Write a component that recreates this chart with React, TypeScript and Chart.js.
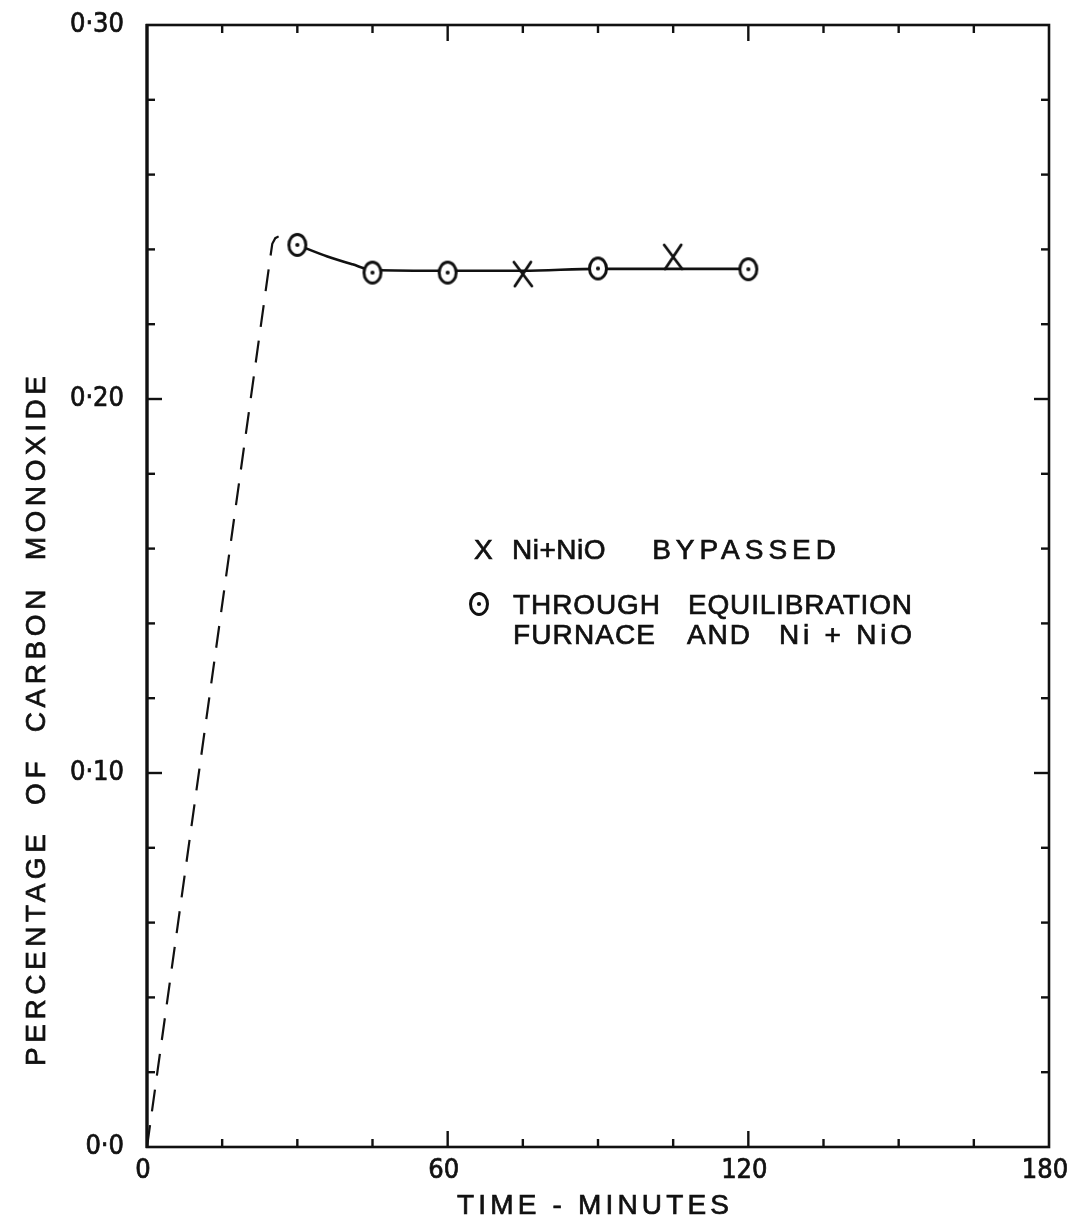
import { useEffect, useRef } from 'react';
import { Chart, registerables } from 'chart.js';

Chart.register(...registerables);

// CO readings taken with the gas routed through the equilibration furnace and Ni + NiO
const throughTimes = [30, 45, 60, 90, 120];
const throughCO = [0.2412, 0.2338, 0.2338, 0.2349, 0.2347];

// CO readings with the Ni + NiO bypassed
const bypassTimes = [75, 105];
const bypassCO = [0.2334, 0.238];

// smoothed curve through the readings
const curveTimes = [30, 36, 41, 45, 60, 75, 90, 105, 120];
const curveCO = [0.2412, 0.2381, 0.236, 0.2345, 0.2343, 0.2343, 0.2348, 0.2348, 0.2348];

// initial build-up (dashed)
const riseTimes = [0, 24.6, 25.0, 25.6, 26.3, 27.1];
const riseCO = [0, 0.2378, 0.2415, 0.2430, 0.2435, 0.2437];

const xTickValues = [0, 60, 120, 180];
const xTickLabels = ['0', '60', '120', '180'];
const yTickValues = [0, 0.1, 0.2, 0.3];
const yTickLabels = ['0·0', '0·10', '0·20', '0·30'];
const xMinorStep = 15;
const yMinorStep = 0.02;

const xAxisTitle = 'TIME - MINUTES';
const yAxisTitle = 'PERCENTAGE  OF  CARBON  MONOXIDE';

const legendBypassWords = ['Ni+NiO', 'BYPASSED'];
const legendThroughLine1 = ['THROUGH', 'EQUILIBRATION'];
const legendThroughLine2 = ['FURNACE', 'AND', 'Ni + NiO'];

const INK = '#111111';
const TICK_FONT = '"DejaVu Sans Condensed", "DejaVu Sans", sans-serif';
const TEXT_FONT = '"Liberation Sans", Arial, sans-serif';

function makeRing(): HTMLCanvasElement {
  const c = document.createElement('canvas');
  c.width = 24;
  c.height = 28;
  const g = c.getContext('2d')!;
  g.lineWidth = 3;
  g.strokeStyle = INK;
  g.fillStyle = '#ffffff';
  g.beginPath();
  g.ellipse(12, 14, 8.5, 10.5, 0, 0, Math.PI * 2);
  g.fill();
  g.stroke();
  g.fillStyle = INK;
  g.beginPath();
  g.arc(12, 14, 2.1, 0, Math.PI * 2);
  g.fill();
  return c;
}

function makeCross(): HTMLCanvasElement {
  const c = document.createElement('canvas');
  c.width = 24;
  c.height = 28;
  const g = c.getContext('2d')!;
  g.lineWidth = 2.8;
  g.strokeStyle = INK;
  g.lineCap = 'round';
  g.beginPath();
  g.moveTo(3, 2);
  g.lineTo(21, 26);
  g.moveTo(20, 2);
  g.lineTo(4, 26);
  g.stroke();
  return c;
}

const toPoints = (xs: number[], ys: number[]) => xs.map((x, i) => ({ x, y: ys[i] }));

// draws text so that its ink runs from x0 to x1 by spreading the letters
function spreadText(ctx: any, text: string, x0: number, x1: number, y: number) {
  ctx.letterSpacing = '0px';
  const w = ctx.measureText(text).width;
  const n = Array.from(text).length;
  const sp = n > 1 ? (x1 - x0 - w) / (n - 1) : 0;
  ctx.letterSpacing = `${sp}px`;
  ctx.textAlign = 'left';
  ctx.fillText(text, x0, y);
  ctx.strokeText(text, x0, y);
  ctx.letterSpacing = '0px';
}

// draws text with a fixed letter spacing, left or right anchored
function spacedText(ctx: any, text: string, x: number, y: number, sp: number, align: 'left' | 'right') {
  ctx.letterSpacing = `${sp}px`;
  const w = ctx.measureText(text).width - sp;
  const x0 = align === 'left' ? x : x - w;
  ctx.textAlign = 'left';
  ctx.fillText(text, x0, y);
  ctx.strokeText(text, x0, y);
  ctx.letterSpacing = '0px';
}

const framePlugin = {
  id: 'frameAndNotes',
  afterDraw(chart: any) {
    const { ctx, chartArea: a, scales } = chart;
    const x = scales.x;
    const y = scales.y;
    ctx.save();
    ctx.strokeStyle = INK;
    ctx.lineCap = 'butt';

    const seg = (x1: number, y1: number, x2: number, y2: number) => {
      ctx.beginPath();
      ctx.moveTo(x1, y1);
      ctx.lineTo(x2, y2);
      ctx.stroke();
    };

    // inward tick marks on all four sides
    ctx.lineWidth = 2.4;
    for (let v = xMinorStep; v < x.max - 1e-9; v += xMinorStep) {
      const px = x.getPixelForValue(v);
      const major = xTickValues.some((t) => Math.abs(t - v) < 1e-9);
      const len = major ? 16 : 8;
      seg(px, a.bottom, px, a.bottom - len);
      seg(px, a.top, px, a.top + len);
    }
    for (let v = yMinorStep; v < y.max - 1e-9; v += yMinorStep) {
      const py = y.getPixelForValue(v);
      const major = yTickValues.some((t) => Math.abs(t - v) < 1e-9);
      const len = major ? 15 : 8;
      seg(a.left, py, a.left + len, py);
      seg(a.right, py, a.right - len, py);
    }

    // frame
    ctx.lineWidth = 2.6;
    ctx.strokeRect(a.left, a.top, a.right - a.left, a.bottom - a.top);
    ctx.lineWidth = 3.2;
    seg(a.left, a.top - 1, a.left, a.bottom + 1);

    // axis titles
    ctx.fillStyle = INK;
    ctx.lineWidth = 0.7;
    ctx.textBaseline = 'middle';
    ctx.font = `28px ${TEXT_FONT}`;
    spreadText(ctx, xAxisTitle, 457, 729, 1206);

    ctx.save();
    ctx.translate(37, 1066);
    ctx.rotate(-Math.PI / 2);
    spreadText(ctx, yAxisTitle, 0, 690, 0);
    ctx.restore();

    // key
    ctx.textBaseline = 'alphabetic';
    ctx.font = `28px ${TEXT_FONT}`;
    ctx.textAlign = 'left';
    ctx.fillText('X', 474, 559);
    ctx.strokeText('X', 474, 559);
    spacedText(ctx, legendBypassWords[0], 512, 559, 0.5, 'left');
    spacedText(ctx, legendBypassWords[1], 836, 559, 5, 'right');
    spreadText(ctx, legendThroughLine1[0], 513, 660, 614);
    spreadText(ctx, legendThroughLine1[1], 688, 912, 614);
    spreadText(ctx, legendThroughLine2[0], 513, 655, 644);
    spreadText(ctx, legendThroughLine2[1], 687, 750, 644);
    spreadText(ctx, legendThroughLine2[2], 779, 912, 644);
    const ring = chart.$ringImage as HTMLCanvasElement;
    if (ring) ctx.drawImage(ring, 467, 590);

    ctx.restore();
  },
};

export default function App() {
  const canvasRef = useRef<HTMLCanvasElement | null>(null);

  useEffect(() => {
    const canvas = canvasRef.current;
    if (!canvas) return;
    const ring = makeRing();
    const cross = makeCross();

    const chart = new Chart(canvas, {
      type: 'scatter',
      data: {
        datasets: [
          {
            label: 'Through equilibration furnace and Ni + NiO',
            data: toPoints(throughTimes, throughCO),
            pointStyle: ring as any,
            pointRadius: 10,
            showLine: false,
            order: 0,
          },
          {
            label: 'Ni + NiO bypassed',
            data: toPoints(bypassTimes, bypassCO),
            pointStyle: cross as any,
            pointRadius: 10,
            showLine: false,
            order: 0,
          },
          {
            label: 'curve',
            data: toPoints(curveTimes, curveCO),
            showLine: true,
            borderColor: INK,
            borderWidth: 2.6,
            pointRadius: 0,
            cubicInterpolationMode: 'monotone',
            order: 1,
          },
          {
            label: 'rise',
            data: toPoints(riseTimes, riseCO),
            showLine: true,
            borderColor: INK,
            borderWidth: 2.2,
            borderDash: [22, 14],
            pointRadius: 0,
            tension: 0,
            order: 1,
          },
        ],
      },
      options: {
        responsive: false,
        animation: false,
        events: [],
        layout: { padding: { left: 0, top: 25, right: 19, bottom: 0 } },
        plugins: {
          legend: { display: false },
          tooltip: { enabled: false },
        },
        scales: {
          x: {
            type: 'linear',
            min: 0,
            max: 180,
            afterBuildTicks: (s: any) => {
              s.ticks = xTickValues.map((value) => ({ value }));
            },
            afterFit: (s: any) => {
              s.height = 82;
              s.paddingLeft = 0;
              s.paddingRight = 0;
            },
            grid: { display: false, drawTicks: false },
            border: { display: false },
            ticks: {
              autoSkip: false,
              maxRotation: 0,
              padding: 8,
              labelOffset: -4,
              color: INK,
              textStrokeColor: INK,
              textStrokeWidth: 0.7,
              font: { family: TICK_FONT, size: 27 },
              callback: (v: any) => xTickLabels[xTickValues.indexOf(Number(v))] ?? '',
            },
          },
          y: {
            type: 'linear',
            min: 0,
            max: 0.3,
            afterBuildTicks: (s: any) => {
              s.ticks = yTickValues.map((value) => ({ value }));
            },
            afterFit: (s: any) => {
              s.width = 147;
              s.paddingTop = 0;
              s.paddingBottom = 0;
            },
            grid: { display: false, drawTicks: false },
            border: { display: false },
            ticks: {
              autoSkip: false,
              padding: 23,
              color: INK,
              textStrokeColor: INK,
              textStrokeWidth: 0.7,
              font: { family: TICK_FONT, size: 27 },
              callback: (v: any) => {
                const i = yTickValues.findIndex((t) => Math.abs(t - Number(v)) < 1e-9);
                return i >= 0 ? yTickLabels[i] : '';
              },
            },
          },
        },
      },
      plugins: [framePlugin],
    } as any);
    (chart as any).$ringImage = ring;
    chart.draw();

    return () => chart.destroy();
  }, []);

  return (
    <div style={{ position: 'absolute', left: 0, top: 0, width: 1068, height: 1229, background: '#ffffff' }}>
      <canvas ref={canvasRef} width={1068} height={1229} style={{ display: 'block' }} />
    </div>
  );
}
